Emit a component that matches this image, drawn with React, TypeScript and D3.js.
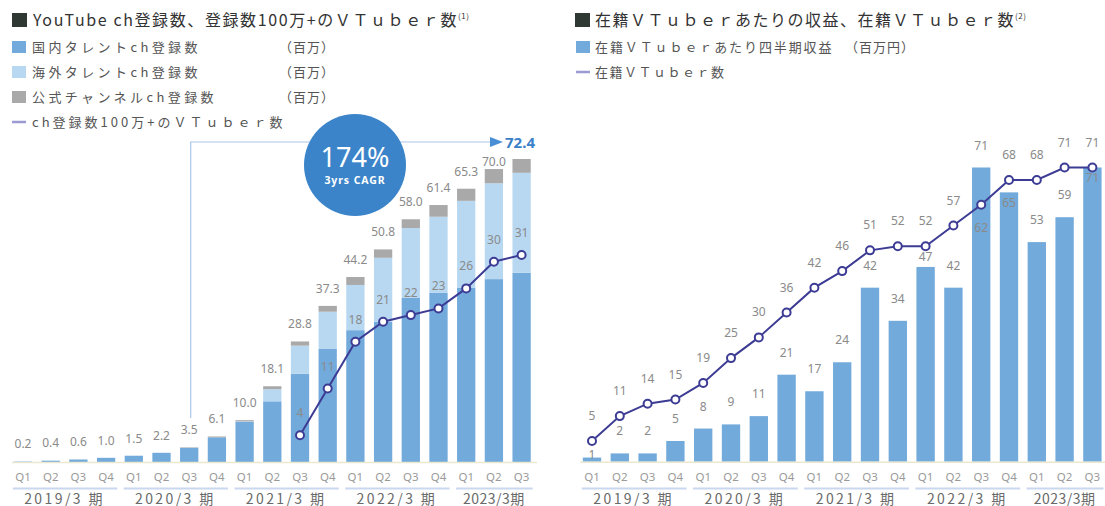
import React from 'react';
import * as d3 from 'd3';

// ---------- data ----------
const quarters = ['Q1','Q2','Q3','Q4','Q1','Q2','Q3','Q4','Q1','Q2','Q3','Q4','Q1','Q2','Q3','Q4','Q1','Q2','Q3'];
const fiscalYears = ['2019/3 期','2020/3 期','2021/3 期','2022/3 期','2023/3期'];
const fiscalYearQuarterCounts = [4, 4, 4, 4, 3];

// left chart (百万)
const domesticSubs = [0.1, 0.3, 0.6, 1.0, 1.5, 2.2, 3.4, 5.9, 9.6, 14.5, 21.1, 27.0, 31.5, 33.5, 39.2, 40.4, 41.6, 43.7, 45.2];
const overseasSubs = [0.1, 0.1, 0, 0, 0, 0, 0, 0, 0.1, 2.9, 6.7, 8.9, 10.8, 15.3, 16.7, 18.2, 20.8, 22.9, 23.9];
const officialSubs = [0, 0, 0, 0, 0, 0, 0.1, 0.2, 0.3, 0.7, 1.0, 1.4, 1.9, 2.0, 2.1, 2.8, 2.9, 3.4, 3.3];
const totalSubsLabels = ['0.2','0.4','0.6','1.0','1.5','2.2','3.5','6.1','10.0','18.1','28.8','37.3','44.2','50.8','58.0','61.4','65.3','70.0','72.4'];
const millionVTubers: (number | null)[] = [null, null, null, null, null, null, null, null, null, null, 4, 11, 18, 21, 22, 23, 26, 30, 31];
const cagrText = '174%';
const cagrSub = '3yrs CAGR';
const latestTotal = '72.4';

// right chart
const revenuePerVTuber = [1, 2, 2, 5, 8, 9, 11, 21, 17, 24, 42, 34, 47, 42, 71, 65, 53, 59, 71];
const vtuberCount = [5, 11, 14, 15, 19, 25, 30, 36, 42, 46, 51, 52, 52, 57, 62, 68, 68, 71, 71];

const leftTitle = 'YouTube ch登録数、登録数100万+のＶＴｕｂｅｒ数';
const rightTitle = '在籍ＶＴｕｂｅｒあたりの収益、在籍ＶＴｕｂｅｒ数';
const leftLegend = ['国内タレントch登録数', '海外タレントch登録数', '公式チャンネルch登録数'];
const leftLineLegend = 'ch登録数100万+のＶＴｕｂｅｒ数';
const rightLegendBar = '在籍ＶＴｕｂｅｒあたり四半期収益';
const rightLegendLine = '在籍ＶＴｕｂｅｒ数';

// ---------- style ----------
const C_DOM = '#72aadb';
const C_OVS = '#b8d8f2';
const C_OFF = '#a9a9a9';
const C_LINE = '#3d3c95';
const C_TXT = '#8a8a8a';
const C_LEG = '#555555';
const FONT = '"Noto Sans CJK JP", "Noto Sans", sans-serif';
const NUMFONT = '"Noto Sans", "DejaVu Sans", sans-serif';

const idx = quarters.map((_, i) => i);

function XAxis({ x, baseY, x0, x1 }: { x: d3.ScaleBand<number>; baseY: number; x0: number; x1: number }) {
  const bw = x.bandwidth();
  let start = 0;
  const groups = fiscalYearQuarterCounts.map((n, g) => {
    const s = start;
    start += n;
    return { s, e: s + n - 1, label: fiscalYears[g] };
  });
  return (
    <g>
      <line x1={x0} x2={x1} y1={baseY + 0.5} y2={baseY + 0.5} stroke="#ece8cf" strokeWidth={1.5} />
      {idx.map(i => (
        <text key={i} x={x(i)! + bw / 2} y={481} textAnchor="middle" fontSize={11.5} fill="#9a9a9a" fontFamily={NUMFONT}>{quarters[i]}</text>
      ))}
      {groups.map((g, k) => (
        <g key={k}>
          <line x1={x(g.s)! - 1} x2={x(g.e)! + bw + 2} y1={488.5} y2={488.5} stroke="#c9d8f0" strokeWidth={2} />
          <text x={(x(g.s)! + x(g.e)! + bw) / 2} y={503.5} textAnchor="middle" fontSize={14} fill="#6a6a6a" fontFamily={FONT} letterSpacing={k === 4 ? 0.5 : 2.4}>{g.label}</text>
        </g>
      ))}
    </g>
  );
}

function LeftChart() {
  const x = d3.scaleBand<number>().domain(idx).range([9.15, 535.45]).paddingInner(0.34).paddingOuter(0.17);
  const y = d3.scaleLinear().domain([0, 72.4]).range([462, 159]);
  const yl = d3.scaleLinear().domain([0, 31]).range([462, 255]);
  const bw = x.bandwidth();
  const stackRows = idx.map(i => ({ i, dom: domesticSubs[i], ovs: overseasSubs[i], off: officialSubs[i] }));
  const series = d3.stack<any>().keys(['dom', 'ovs', 'off'])(stackRows);
  const colors: Record<string, string> = { dom: C_DOM, ovs: C_OVS, off: C_OFF };
  const line = d3.line<number | null>()
    .defined(d => d != null)
    .x((_, i) => x(i)! + bw / 2)
    .y(d => yl(d as number));
  const arrowX = x(6)! + bw / 2 + 1.5;
  const arrowY = 142;
  return (
    <g>
      {/* title */}
      <rect x={12} y={13} width={15} height={14} fill="#2f3833" />
      <text x={33} y={26} fontSize={16} fill="#333" fontFamily={FONT} letterSpacing={1.6}>
        {leftTitle}<tspan fontSize={8} dy={-7} letterSpacing={0.5}>(1)</tspan>
      </text>
      {/* legend */}
      {leftLegend.map((t, k) => (
        <g key={k}>
          <rect x={12} y={41 + k * 25} width={14} height={12} fill={[C_DOM, C_OVS, C_OFF][k]} />
          <text x={32} y={52 + k * 25} fontSize={13} fill={C_LEG} fontFamily={FONT} letterSpacing={3.4}>{t}</text>
          <text x={279} y={52 + k * 25} fontSize={13} fill={C_LEG} fontFamily={FONT} letterSpacing={1}>（百万）</text>
        </g>
      ))}
      <line x1={12} x2={26} y1={122} y2={122} stroke="#9c9ad2" strokeWidth={2.5} />
      <text x={32} y={127} fontSize={13} fill={C_LEG} fontFamily={FONT} letterSpacing={3}>{leftLineLegend}</text>

      {/* bars */}
      {series.map(s => (
        <g key={s.key} fill={colors[s.key]}>
          {s.map((d, i) => d[1] - d[0] > 0 ? (
            <rect key={i} x={x(i)} y={y(d[1])} width={bw} height={y(d[0]) - y(d[1])} />
          ) : null)}
        </g>
      ))}
      {/* totals */}
      {idx.slice(0, 18).map(i => {
        const top = y(domesticSubs[i] + overseasSubs[i] + officialSubs[i]);
        return (
          <text key={i} x={x(i)! + bw / 2} y={Math.max(top - 13, 166)} textAnchor="middle" fontSize={12} fill={C_TXT} fontFamily={NUMFONT}>{totalSubsLabels[i]}</text>
        );
      })}
      {/* arrow */}
      <path d={`M${arrowX},418 V${arrowY} H490`} fill="none" stroke="#a9c6ea" strokeWidth={1.2} />
      <path d={`M490,${arrowY - 5} L503,${arrowY} L490,${arrowY + 5} Z`} fill="#4a8fd6" />
      <text x={505} y={arrowY + 5.5} fontSize={15} fontWeight="bold" fill="#3a80c9" fontFamily={NUMFONT}>{latestTotal}</text>
      {/* CAGR bubble */}
      <circle cx={355} cy={165} r={51} fill="#3b84c9" />
      <text x={355} y={167} textAnchor="middle" fontSize={27} fill="#fff" fontFamily={NUMFONT}>{cagrText}</text>
      <text x={355} y={184} textAnchor="middle" fontSize={10.5} fontWeight="bold" fill="#fff" fontFamily={NUMFONT} letterSpacing={0.9}>{cagrSub}</text>
      {/* line */}
      <path d={line(millionVTubers) || ''} fill="none" stroke={C_LINE} strokeWidth={2} />
      {millionVTubers.map((v, i) => v == null ? null : (
        <g key={i}>
          <text x={x(i)! + bw / 2} y={yl(v) - 18} textAnchor="middle" fontSize={12} fill={C_TXT} fontFamily={NUMFONT}>{v}</text>
          <circle cx={x(i)! + bw / 2} cy={yl(v)} r={4} fill="#fff" stroke={C_LINE} strokeWidth={2} />
        </g>
      ))}
      <XAxis x={x} baseY={462} x0={12} x1={537} />
    </g>
  );
}

function RightChart() {
  const x = d3.scaleBand<number>().domain(idx).range([578.1, 1106.3]).paddingInner(0.34).paddingOuter(0.17);
  const y = d3.scaleLinear().domain([0, 71]).range([461.7, 167.5]);
  const bw = x.bandwidth();
  const line = d3.line<number>().x((_, i) => x(i)! + bw / 2).y(d => y(d));
  const barLabelDy: Record<number, number> = { 0: 1, 12: -6, 15: 15, 18: 14 };
  const lineLabelDy: Record<number, number> = { 14: 27 };
  return (
    <g>
      <rect x={575} y={13} width={15} height={14} fill="#2f3833" />
      <text x={595} y={26} fontSize={16} fill="#333" fontFamily={FONT} letterSpacing={1.5}>
        {rightTitle}<tspan fontSize={8} dy={-7} letterSpacing={0.5}>(2)</tspan>
      </text>
      <rect x={576} y={41} width={14} height={12} fill={C_DOM} />
      <text x={595} y={52} fontSize={13} fill={C_LEG} fontFamily={FONT} letterSpacing={1.9}>{rightLegendBar}</text>
      <text x={845} y={52} fontSize={13} fill={C_LEG} fontFamily={FONT} letterSpacing={1}>（百万円）</text>
      <line x1={576} x2={590} y1={72} y2={72} stroke="#9c9ad2" strokeWidth={2.5} />
      <text x={595} y={77} fontSize={13} fill={C_LEG} fontFamily={FONT} letterSpacing={1.5}>{rightLegendLine}</text>

      {revenuePerVTuber.map((v, i) => (
        <rect key={i} x={x(i)} y={y(v)} width={bw} height={y(0) - y(v)} fill={C_DOM} />
      ))}
      <path d={line(vtuberCount) || ''} fill="none" stroke={C_LINE} strokeWidth={2} />
      {revenuePerVTuber.map((v, i) => (
        <text key={i} x={x(i)! + bw / 2} y={y(v) + (barLabelDy[i] ?? -18)} textAnchor="middle" fontSize={12} fill={C_TXT} fontFamily={NUMFONT}>{v}</text>
      ))}
      {vtuberCount.map((v, i) => (
        <g key={i}>
          <text x={x(i)! + bw / 2} y={y(v) + (lineLabelDy[i] ?? -21)} textAnchor="middle" fontSize={12} fill={C_TXT} fontFamily={NUMFONT}>{v}</text>
          <circle cx={x(i)! + bw / 2} cy={y(v)} r={4} fill="#fff" stroke={C_LINE} strokeWidth={2} />
        </g>
      ))}
      <XAxis x={x} baseY={461.7} x0={580} x1={1105} />
    </g>
  );
}

export default function App() {
  return (
    <svg width={1105} height={506} style={{ position: 'absolute', left: 0, top: 0, background: '#fff' }}>
      <rect width={1105} height={506} fill="#fff" />
      <LeftChart />
      <RightChart />
    </svg>
  );
}
